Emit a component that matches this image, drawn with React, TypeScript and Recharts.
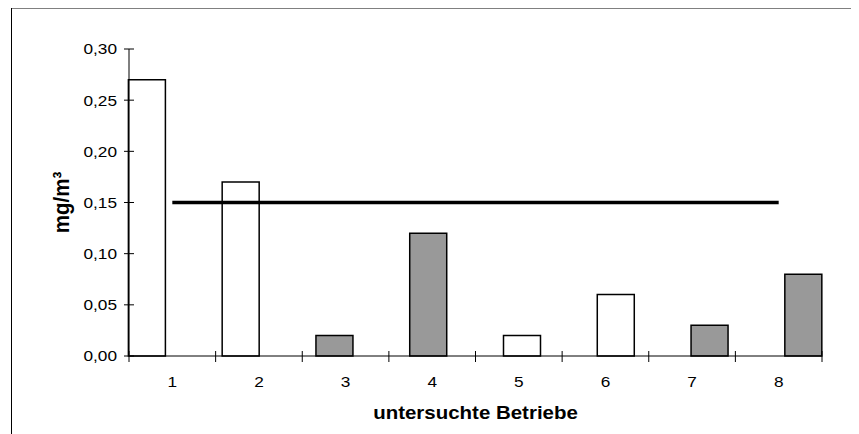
import React from 'react';
import { ComposedChart, Bar, Line, XAxis, YAxis, Cell } from 'recharts';

const categories = ['1', '2', '3', '4', '5', '6', '7', '8'];
const positions = [1, 2, 3, 4, 5, 6, 7, 8];
const values = [0.27, 0.17, 0.02, 0.12, 0.02, 0.06, 0.03, 0.08];
const groups = ['white', 'white', 'grey', 'grey', 'white', 'white', 'grey', 'grey'];
const limitValues = [0.15, 0.15, 0.15, 0.15, 0.15, 0.15, 0.15, 0.15];
const yTicks = [0, 0.05, 0.1, 0.15, 0.2, 0.25, 0.3];

const data = categories.map((c, i) => ({
  cat: c,
  pos: positions[i],
  value: values[i],
  group: groups[i],
  limit: limitValues[i],
}));

const W = 851;
const H = 426;
const M = { top: 41, right: 37, left: 0, bottom: 0 };
const Y_W = 121;
const X_H = 78;
const PLOT_W = W - Y_W - M.right;
const FONT = '"Liberation Sans", Arial, sans-serif';
const SX = 1.15;

const fmt = (v: number) => v.toFixed(2).replace('.', ',');

const YTick = (props: any) => {
  const { x, y, payload } = props;
  const axisX = x + 12;
  return (
    <g>
      <line x1={axisX - 5} x2={axisX + 5} y1={y} y2={y} stroke="#000" strokeWidth={1} />
      <text
        transform={`translate(${x},${y}) scale(${SX},1)`}
        textAnchor="end"
        dy="0.36em"
        fontSize={15}
        fontFamily={FONT}
        fill="#000"
      >
        {fmt(payload.value)}
      </text>
    </g>
  );
};

const XTick = (props: any) => {
  const { x, y, payload, index } = props;
  const axisY = y - 6;
  const band = PLOT_W / categories.length;
  const left = x - band / 2;
  const right = x + band / 2;
  return (
    <g>
      <line x1={left} x2={left} y1={axisY - 5} y2={axisY + 6} stroke="#000" strokeWidth={1} />
      {index === categories.length - 1 && (
        <line x1={right} x2={right} y1={axisY - 5} y2={axisY + 6} stroke="#000" strokeWidth={1} />
      )}
      <text
        transform={`translate(${x},${axisY + 25.5}) scale(${SX},1)`}
        textAnchor="middle"
        dy="0.36em"
        fontSize={15}
        fontFamily={FONT}
        fill="#000"
      >
        {payload.value}
      </text>
    </g>
  );
};

const XTitle = (props: any) => {
  const { viewBox } = props;
  const cx = viewBox.x + viewBox.width / 2;
  const cy = viewBox.y + 57;
  return (
    <text
      transform={`translate(${cx},${cy}) scale(1.17,1)`}
      textAnchor="middle"
      dy="0.36em"
      fontSize={17.5}
      fontWeight="bold"
      fontFamily={FONT}
      fill="#000"
    >
      untersuchte Betriebe
    </text>
  );
};

const YTitle = (props: any) => {
  const { viewBox } = props;
  const cx = 53;
  const cy = viewBox.y + viewBox.height / 2;
  return (
    <text
      transform={`translate(${cx},${cy}) rotate(-90) scale(1.05,1.15)`}
      textAnchor="middle"
      dy="0.36em"
      fontSize={19.5}
      fontWeight="bold"
      fontFamily={FONT}
      fill="#000"
    >
      mg/m³
    </text>
  );
};

export default function App() {
  return (
    <div style={{ position: 'relative', width: W, height: H, fontFamily: FONT }}>
      <div style={{ position: 'absolute', left: 3, top: -1, right: 0, height: 2, background: '#808080' }} />
      <div style={{ position: 'absolute', left: 3, top: -1, bottom: -8, width: 1, background: '#000' }} />
      <ComposedChart width={W} height={H} data={data} margin={M}>
        <XAxis
          xAxisId="cat"
          dataKey="cat"
          type="category"
          height={X_H}
          axisLine={{ stroke: '#000', strokeWidth: 1 }}
          tickLine={false}
          tickSize={6}
          tickMargin={0}
          tick={<XTick />}
          interval={0}
          label={<XTitle />}
        />
        <XAxis
          xAxisId="pos"
          dataKey="pos"
          type="number"
          domain={[0.805, 8.195]}
          hide
        />
        <YAxis
          domain={[0, 0.3]}
          ticks={yTicks}
          width={Y_W}
          axisLine={{ stroke: '#000', strokeWidth: 1 }}
          tickLine={false}
          tickSize={5}
          tickMargin={7}
          tick={<YTick />}
          interval={0}
          label={<YTitle />}
        />
        <Bar xAxisId="pos" dataKey="value" barSize={37} stroke="#000" strokeWidth={1.5} isAnimationActive={false}>
          {data.map((d, i) => (
            <Cell key={i} fill={d.group === 'grey' ? '#999999' : '#ffffff'} />
          ))}
        </Bar>
        <Line
          xAxisId="cat"
          dataKey="limit"
          stroke="#000"
          strokeWidth={3.5}
          dot={false}
          activeDot={false}
          isAnimationActive={false}
        />
      </ComposedChart>
    </div>
  );
}
